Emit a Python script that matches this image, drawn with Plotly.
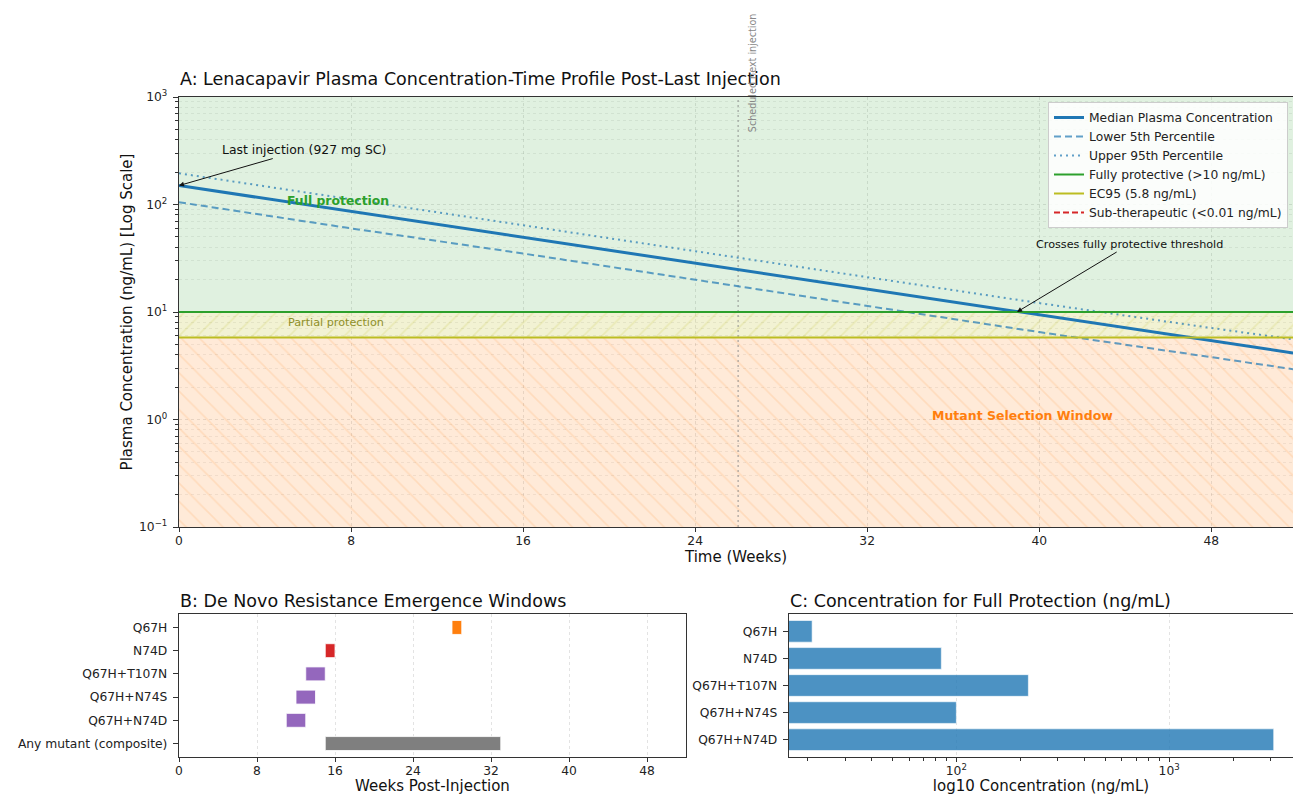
import math
import numpy as np
import plotly.graph_objects as go

# ---------------- data ----------------
weeks = [0, 8, 16, 24, 32, 40, 48, 52]
median_conc = [150, 86, 49.5, 28.4, 16.3, 9.3, 5.4, 4.1]
lower_conc = [105, 60, 35, 20, 11.4, 6.5, 3.8, 2.9]
upper_conc = [195, 112, 64, 37, 21, 12.1, 7.1, 5.5]

full_protect = 10
ec95 = 5.8
sub_therapeutic = 0.01
next_injection_week = 26

mutants = ["Q67H", "N74D", "Q67H+T107N", "Q67H+N74S", "Q67H+N74D", "Any mutant (composite)"]
window_start = [28, 15, 13, 12, 11, 15]
window_end = [29, 16, 15, 14, 13, 33]
window_colors = ["#ff7f0e", "#d62728", "#9467bd", "#9467bd", "#9467bd", "#7f7f7f"]

prot_mutants = ["Q67H", "N74D", "Q67H+T107N", "Q67H+N74S", "Q67H+N74D"]
prot_conc = [21, 85, 218, 100, 3100]

week_ticks = [0, 8, 16, 24, 32, 40, 48]
ylog_ticks = [0.1, 1, 10, 100, 1000]
ylog_ticktext = ["10<sup>−1</sup>", "10<sup>0</sup>", "10<sup>1</sup>", "10<sup>2</sup>", "10<sup>3</sup>"]

# ---------------- figure ----------------
W, H = 1293, 795
FONT = "DejaVu Sans"
BLUE = "#1f77b4"
BLUE_L = "rgba(31,119,180,0.7)"
GRID = "rgba(176,176,176,0.35)"

def px_x(p):
    return p / W

def px_y(p):
    return 1 - p / H

fig = go.Figure()

# shaded zones (panel A)
xz = [-2, 60, 60, -2, -2]
fig.add_trace(go.Scatter(x=xz, y=[full_protect, full_protect, 1000, 1000, full_protect],
                         fill="toself", mode="none", fillcolor="rgba(44,160,44,0.15)",
                         showlegend=False, hoverinfo="skip", xaxis="x", yaxis="y"))
fig.add_trace(go.Scatter(x=xz, y=[ec95, ec95, full_protect, full_protect, ec95],
                         fill="toself", mode="none", fillcolor="rgba(188,189,34,0.2)",
                         fillpattern=dict(shape="/", bgcolor="rgba(188,189,34,0.2)",
                                          fgcolor="rgba(188,189,34,0.35)", size=13, solidity=0.12),
                         showlegend=False, hoverinfo="skip", xaxis="x", yaxis="y"))
fig.add_trace(go.Scatter(x=xz, y=[0.1, 0.1, ec95, ec95, 0.1],
                         fill="toself", mode="none", fillcolor="rgba(255,127,14,0.16)",
                         fillpattern=dict(shape="\\", bgcolor="rgba(255,127,14,0.16)",
                                          fgcolor="rgba(255,127,14,0.28)", size=13, solidity=0.12),
                         showlegend=False, hoverinfo="skip", xaxis="x", yaxis="y"))

# next injection line
fig.add_trace(go.Scatter(x=[next_injection_week, next_injection_week], y=[0.1, 1000],
                         mode="lines", line=dict(color="rgba(128,128,128,0.55)", width=1.5, dash="2px,3px"),
                         showlegend=False, hoverinfo="skip", xaxis="x", yaxis="y"))

# PK curves
fig.add_trace(go.Scatter(x=weeks, y=median_conc, mode="lines", name="Median Plasma Concentration",
                         line=dict(color=BLUE, width=3), xaxis="x", yaxis="y"))
fig.add_trace(go.Scatter(x=weeks, y=lower_conc, mode="lines", name="Lower 5th Percentile",
                         line=dict(color=BLUE_L, width=2, dash="7px,4px"), xaxis="x", yaxis="y"))
fig.add_trace(go.Scatter(x=weeks, y=upper_conc, mode="lines", name="Upper 95th Percentile",
                         line=dict(color=BLUE_L, width=2, dash="2px,4px"), xaxis="x", yaxis="y"))
fig.add_trace(go.Scatter(x=[-2, 60], y=[full_protect, full_protect], mode="lines",
                         name="Fully protective (>10 ng/mL)",
                         line=dict(color="#2ca02c", width=2), xaxis="x", yaxis="y"))
fig.add_trace(go.Scatter(x=[-2, 60], y=[ec95, ec95], mode="lines", name="EC95 (5.8 ng/mL)",
                         line=dict(color="#bcbd22", width=2), xaxis="x", yaxis="y"))
fig.add_trace(go.Scatter(x=[-2, 60], y=[sub_therapeutic, sub_therapeutic], mode="lines",
                         name="Sub-therapeutic (<0.01 ng/mL)",
                         line=dict(color="#d62728", width=2, dash="6px,3px"), xaxis="x", yaxis="y"))

# panel B: resistance windows
durations = [e - s for s, e in zip(window_start, window_end)]
fig.add_trace(go.Bar(y=mutants, x=durations, base=window_start, orientation="h", width=0.6,
                     marker=dict(color=window_colors, line=dict(color="rgba(255,255,255,0.8)", width=1)),
                     showlegend=False, xaxis="x2", yaxis="y2"))

# panel C: protection concentrations
fig.add_trace(go.Bar(y=prot_mutants, x=prot_conc, orientation="h", width=0.8,
                     marker=dict(color="rgba(31,119,180,0.8)", line=dict(color="rgba(255,255,255,0.6)", width=1)),
                     showlegend=False, xaxis="x3", yaxis="y3"))

# crossing point of median with full-protection threshold
lm = np.log10(median_conc)
cross_week = float(np.interp(math.log10(full_protect), lm[::-1], np.array(weeks)[::-1]))

tick_font = dict(family=FONT, size=12.3, color="#222")
title_font = dict(family=FONT, size=15, color="#111")
axis_common = dict(showline=True, linecolor="#333", linewidth=1.2, ticks="outside",
                   tickcolor="#333", tickfont=tick_font, zeroline=False,
                   automargin=False)
x_common = dict(ticklen=4, ticklabelstandoff=-2, **axis_common)
y_common = dict(ticklen=5, ticklabelstandoff=3, **axis_common)

minor_y = [v * m for v in [0.1, 1, 10, 100] for m in range(2, 10)]
minor_c = [v * m for v in [10, 100, 1000] for m in range(2, 10)]

fig.update_layout(
    width=W, height=H, margin=dict(l=0, r=0, t=0, b=0, pad=0), autosize=False,
    paper_bgcolor="white", plot_bgcolor="white",
    font=dict(family=FONT, size=12, color="#222"),
    hovermode=False,
    xaxis=dict(domain=[px_x(179), 1.0], anchor="y", range=[0, 51.8],
               tickvals=week_ticks, mirror=True,
               showgrid=True, gridcolor=GRID, griddash="dot", gridwidth=1,
               title=dict(text="Time (Weeks)", font=title_font, standoff=3),
               **x_common),
    yaxis=dict(domain=[px_y(527), px_y(97)], anchor="x", type="log", range=[-1, 3],
               tickmode="array", tickvals=ylog_ticks, ticktext=ylog_ticktext,
               showgrid=True, gridcolor=GRID, griddash="dot", gridwidth=1,
               minor=dict(tickmode="array", tickvals=minor_y, ticks="outside", ticklen=2.5,
                          tickcolor="#333", showgrid=True, gridcolor="rgba(176,176,176,0.22)",
                          griddash="dot", gridwidth=1),
               title=dict(text="Plasma Concentration (ng/mL) [Log Scale]", font=title_font, standoff=2),
               **y_common),
    xaxis2=dict(domain=[px_x(179), px_x(686)], anchor="y2", range=[0, 52],
                tickvals=week_ticks, mirror=True,
                showgrid=True, gridcolor=GRID, griddash="dot", gridwidth=1,
                title=dict(text="Weeks Post-Injection", font=title_font, standoff=8),
                **x_common),
    yaxis2=dict(domain=[px_y(757), px_y(614)], anchor="x2", type="category",
                categoryorder="array", categoryarray=mutants, mirror=True,
                range=[5.58, -0.58], showgrid=False, **y_common),
    xaxis3=dict(domain=[px_x(789), 1.0], anchor="y3", type="log", range=[1.2135, 3.582],
                tickmode="array", tickvals=[100, 1000],
                ticktext=["10<sup>2</sup>", "10<sup>3</sup>"], mirror=True,
                showgrid=True, gridcolor=GRID, griddash="dot", gridwidth=1,
                minor=dict(tickmode="array", tickvals=minor_c, ticks="outside", ticklen=2.5,
                           tickcolor="#333", showgrid=False),
                title=dict(text="log10 Concentration (ng/mL)", font=title_font, standoff=7),
                **x_common),
    yaxis3=dict(domain=[px_y(757), px_y(614)], anchor="x3", type="category",
                categoryorder="array", categoryarray=prot_mutants,
                range=[4.64, -0.64], showgrid=False, **y_common),
    legend=dict(x=px_x(1288), y=px_y(102), xanchor="right", yanchor="top",
                bgcolor="rgba(255,255,255,0.85)", bordercolor="#cccccc", borderwidth=1,
                font=dict(family=FONT, size=12.3, color="#222"), tracegroupgap=0,
                itemwidth=30),
)

ann = []
# panel titles
ann.append(dict(text="A: Lenacapavir Plasma Concentration-Time Profile Post-Last Injection",
                x=px_x(178), y=px_y(79), xref="paper", yref="paper", xanchor="left",
                yanchor="middle", showarrow=False, font=dict(family=FONT, size=17.5, color="#111")))
ann.append(dict(text="B: De Novo Resistance Emergence Windows",
                x=px_x(178), y=px_y(601), xref="paper", yref="paper", xanchor="left",
                yanchor="middle", showarrow=False, font=dict(family=FONT, size=17.5, color="#111")))
ann.append(dict(text="C: Concentration for Full Protection (ng/mL)",
                x=px_x(788), y=px_y(601), xref="paper", yref="paper", xanchor="left",
                yanchor="middle", showarrow=False, font=dict(family=FONT, size=17.5, color="#111")))
# scheduled injection label
ann.append(dict(text="Scheduled next injection", x=next_injection_week, xref="x",
                y=px_y(73), yref="paper", textangle=-90, xshift=15, showarrow=False,
                xanchor="center", yanchor="middle",
                font=dict(family=FONT, size=9.6, color="#888")))
# arrows
ann.append(dict(text="Last injection (927 mg SC)", x=weeks[0], y=math.log10(median_conc[0]),
                xref="x", yref="y", ax=125, ay=-36, showarrow=True, arrowhead=2,
                arrowsize=1, arrowwidth=1, arrowcolor="#111",
                font=dict(family=FONT, size=12.4, color="#111")))
ann.append(dict(text="Crosses fully protective threshold", x=cross_week, y=math.log10(full_protect),
                xref="x", yref="y", ax=113, ay=-68, showarrow=True, arrowhead=2,
                arrowsize=1, arrowwidth=1, arrowcolor="#111",
                font=dict(family=FONT, size=11.2, color="#111")))
# zone labels
ann.append(dict(text="<b>Full protection</b>", x=7.4, y=math.log10(108), xref="x", yref="y",
                showarrow=False, font=dict(family=FONT, size=12.4, color="#2ca02c")))
ann.append(dict(text="Partial protection", x=7.3, y=math.log10(8.05), xref="x", yref="y",
                showarrow=False, font=dict(family=FONT, size=11.2, color="#8f8f28")))
ann.append(dict(text="<b>Mutant Selection Window</b>", x=39.2, y=math.log10(1.08), xref="x", yref="y",
                showarrow=False, font=dict(family=FONT, size=12.5, color="#ff7f0e")))
fig.update_layout(annotations=ann)

fig.write_html("out.html", config={"displayModeBar": False, "staticPlot": True},
               post_script="document.body.style.margin='0';document.body.style.overflow='hidden';")
